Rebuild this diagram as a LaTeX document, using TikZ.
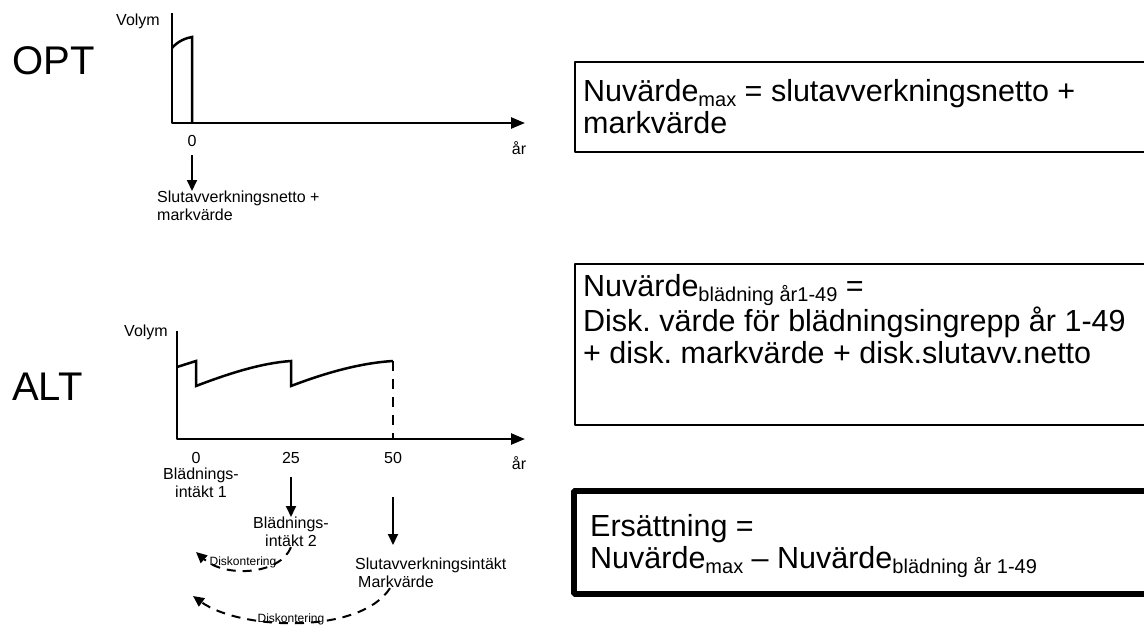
\documentclass[tikz,border=0pt]{standalone}
\usepackage{fontspec}
\setmainfont{Liberation Sans}
\usetikzlibrary{arrows.meta}
\frenchspacing

\newcommand{\lowtxt}[1]{\raisebox{-5.5pt}{\fontsize{20}{20}\selectfont #1}}

\tikzset{
  big/.style={font=\fontsize{40}{44}\selectfont, inner sep=0pt},
  lbl/.style={font=\fontsize{16}{18}\selectfont, inner sep=0pt, align=center},
  tiny/.style={font=\fontsize{12}{13}\selectfont, inner sep=0pt},
  boxtxt/.style={font=\fontsize{30.5}{32}\selectfont, inner sep=0pt, align=left, anchor=north west},
  axis/.style={line width=2.5pt, -{Triangle[length=14pt,width=11pt]}},
  curve/.style={line width=2.5pt, line join=miter},
  arr/.style={line width=2pt, -{Triangle[length=11pt,width=10pt]}},
  disk/.style={line width=2pt, dash pattern=on 9pt off 7pt, -{Triangle[length=11pt,width=10pt]}},
}

\begin{document}
\begin{tikzpicture}[x=1pt,y=-1pt,line join=bevel]
\useasboundingbox (0,0) rectangle (1144,627);

% Node: OPT
\node[big, anchor=west] (opt) at (12,61) {OPT};
\node[lbl, anchor=east] (ovol) at (160,21) {Volym};
\draw[axis] (172,13) -- (172,123) -- (525,123);
\draw[curve] (172,48) .. controls (178,41) and (186,38) .. (192,37) -- (192,123);
\node[lbl] (o0) at (192,141) {0};
\node[lbl] (oar) at (519,148) {år};
\node[lbl, align=left, anchor=north west] (oslut) at (157,191) {Slutavverkningsnetto +\\markvärde};

% Edge: o0 -> oslut
\draw[arr] ([yshift=-8pt]o0.south) -- (o0.south |- oslut.north);

% Node: ALT
\node[big, anchor=west] (alt) at (12,387) {ALT};
\node[lbl, anchor=east] (avol) at (168,332) {Volym};
\draw[axis] (177,331) -- (177,439) -- (525,439);
\draw[curve] (177,367) -- (196,361) -- (196,386)
  .. controls (230,373) and (262,363) .. (291,361) -- (291,386)
  .. controls (325,373) and (360,363) .. (393,361);
\draw[curve, dash pattern=on 10pt off 8pt] (393,361) -- (393,439);
\node[lbl] (a0) at (196,458) {0};
\node[lbl] (a25) at (291,458) {25};
\node[lbl] (a50) at (393,458) {50};
\node[lbl] (aar) at (519,463) {år};
\node[lbl, anchor=north] (b1) at (201,468) {Blädnings-\\intäkt 1};
\node[lbl, anchor=north] (b2) at (291,517) {Blädnings-\\intäkt 2};
\node[lbl, align=left, anchor=north west] (slut) at (355,558) {Slutavverkningsintäkt\\\hspace*{3pt}Markvärde};

% Edge: a25 -> b2
\draw[arr] (291,477) -- (b2.north);

% Edge: a50 -> slut
\draw[arr] (393,497) -- (393,545);

% Edge: b2 -> d1
\coordinate (d1) at (196,552);
\draw[disk] (b2.south) .. controls (280,575) and (225,578) .. (d1);
\node[tiny] (dk1) at (243,562) {Diskontering};

% Edge: slut -> d2
\coordinate (d2) at (193,596);
\draw[disk] ([xshift=35pt]slut.south west) .. controls (360,635) and (240,630) .. (d2);
\node[tiny] (dk2) at (291,619) {Diskontering};

% Node: boxes
\draw[line width=1.5pt] (575,62) rectangle (1170,152);
\node[boxtxt] (nvmax) at (583,79) {Nuvärde\lowtxt{max} = slutavverkningsnetto +\\markvärde};

\draw[line width=1.5pt] (575,264) rectangle (1170,425);
\node[boxtxt] (nvbl) at (583,274) {Nuvärde\lowtxt{blädning år1-49} =\\Disk. värde för blädningsingrepp år 1-49\\+ disk. markvärde + disk.slutavv.netto};

\draw[line width=6pt] (574,491) rectangle (1170,594);
\node[boxtxt] (ers) at (590,514) {Ersättning =\\Nuvärde\lowtxt{max} -- Nuvärde\lowtxt{blädning år 1-49}};

\end{tikzpicture}
\end{document}
